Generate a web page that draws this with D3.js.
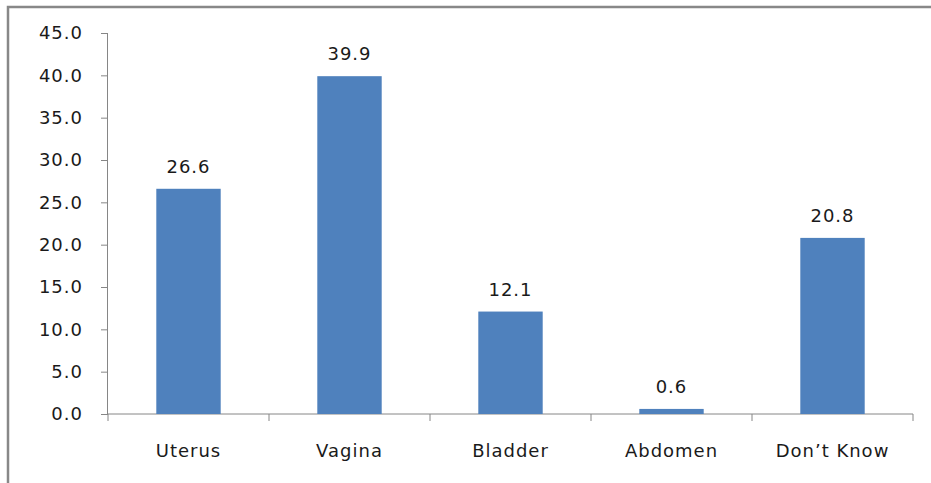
<!DOCTYPE html>
<html>
<head>
<meta charset="utf-8">
<script src="https://cdn.jsdelivr.net/npm/d3@7"></script>
<style>
  body { margin: 0; background: #fff; }
  text { font-family: "DejaVu Sans", sans-serif; fill: #1a1a1a; }
</style>
</head>
<body>
<script>
const categories = ["Uterus", "Vagina", "Bladder", "Abdomen", "Don\u2019t Know"];
const values = [26.6, 39.9, 12.1, 0.6, 20.8];
const yTicks = [0, 5, 10, 15, 20, 25, 30, 35, 40, 45];

const width = 931, height = 483;
const plotLeft = 108, plotRight = 913, plotTop = 33, plotBottom = 414;

const svg = d3.create("svg")
  .attr("width", width)
  .attr("height", height);
document.body.appendChild(svg.node());

// outer frame (only top and left edges are visible)
svg.append("path")
  .attr("d", `M8,${height} V7 H${width}`)
  .attr("fill", "none")
  .attr("stroke", "#888")
  .attr("stroke-width", 2.5);

const x = d3.scaleBand().domain(categories).range([plotLeft, plotRight]).paddingInner(0.6).paddingOuter(0.3);
const xb = d3.scaleBand().domain(categories).range([plotLeft, plotRight]);
const y = d3.scaleLinear().domain([0, 45]).range([plotBottom, plotTop]);

// y axis
const yAxis = svg.append("g")
  .attr("transform", `translate(${plotLeft},0)`)
  .call(d3.axisLeft(y).tickValues(yTicks).tickFormat(d3.format(".1f")).tickSize(7).tickPadding(18));
yAxis.select(".domain").attr("stroke", "#868686").attr("d", `M-0.5,${plotTop}V${plotBottom}`);
yAxis.selectAll(".tick line").attr("stroke", "#868686");
yAxis.selectAll("text")
  .style("font-size", "18px").style("letter-spacing", "1px").attr("fill", "#1a1a1a");

// x axis
const xAxis = svg.append("g").attr("transform", `translate(0,${plotBottom})`);
xAxis.append("line")
  .attr("x1", plotLeft).attr("x2", plotRight)
  .attr("stroke", "#868686");
xAxis.selectAll(".xt")
  .data([...categories.map(c => xb(c)), plotRight])
  .join("line")
  .attr("x1", d => d).attr("x2", d => d)
  .attr("y1", 0).attr("y2", 7)
  .attr("stroke", "#868686");
xAxis.selectAll(".xl")
  .data(categories)
  .join("text")
  .attr("x", d => xb(d) + xb.bandwidth() / 2)
  .attr("y", 43)
  .attr("text-anchor", "middle")
  .style("font-size", "18px").style("letter-spacing", "1px")
  .text(d => d);

// bars
svg.selectAll(".bar")
  .data(values)
  .join("rect")
  .attr("x", (d, i) => x(categories[i]))
  .attr("width", x.bandwidth())
  .attr("y", d => y(d))
  .attr("height", d => plotBottom - y(d))
  .attr("fill", "#4f81bd");

// value labels
svg.selectAll(".lbl")
  .data(values)
  .join("text")
  .attr("x", (d, i) => x(categories[i]) + x.bandwidth() / 2)
  .attr("y", d => y(d) - 16)
  .attr("text-anchor", "middle")
  .style("font-size", "18px").style("letter-spacing", "1px")
  .text(d => d.toFixed(1));
</script>
</body>
</html>
